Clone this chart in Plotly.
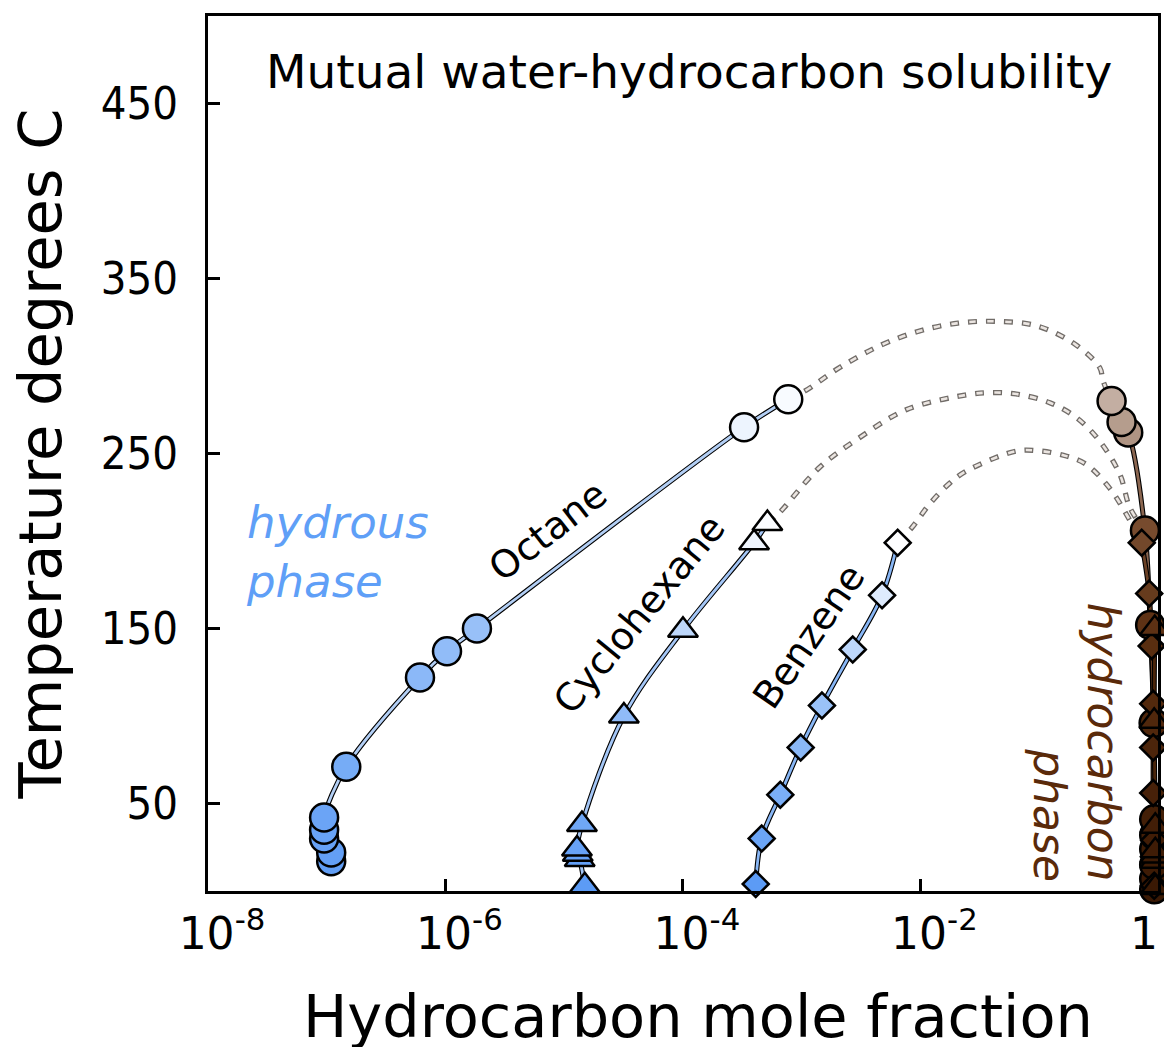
import plotly.graph_objects as go

# hydrous (water-rich) phase: hydrocarbon mole fraction and temperature (deg C)
octane_aq_x = [1.09e-7, 1.09e-7, 9.5e-8, 9.5e-8, 9.5e-8, 1.46e-7, 6.1e-7, 1.03e-6, 1.84e-6, 3.27e-4, 7.7e-4]
octane_aq_t = [17, 22, 30, 35, 42, 71, 122, 137, 150, 265, 281]

cyclohexane_aq_x = [1.49e-5, 1.35e-5, 1.3e-5, 1.28e-5, 1.41e-5, 3.18e-5, 1.0e-4, 3.97e-4, 5.14e-4]
cyclohexane_aq_t = [3, 18, 21, 24, 38, 100, 149, 199, 210]

benzene_aq_x = [4.1e-4, 4.6e-4, 6.6e-4, 9.8e-4, 1.48e-3, 2.69e-3, 4.75e-3, 6.43e-3]
benzene_aq_t = [4, 30, 55, 82, 106, 138, 169, 199]

# hydrocarbon-rich phase
octane_hc_x = [0.93, 0.93, 0.93, 0.93, 0.93, 0.93, 0.92, 0.86, 0.777, 0.562, 0.494, 0.407]
octane_hc_t = [1, 7, 15, 24, 32, 41, 96, 152, 206, 262, 268, 280]

cyclohexane_hc_x = [0.95, 0.95, 0.95, 0.95, 0.95, 0.93, 0.94]
cyclohexane_hc_t = [2, 17, 20, 23, 37, 97, 150]

benzene_hc_x = [0.93, 0.93, 0.912, 0.912, 0.912, 0.885, 0.844, 0.73]
benzene_hc_t = [3, 29, 56, 82, 107, 140, 170, 199]

# dashed connections through the critical region
octane_crit_x = [7.7e-4, 1.08e-3, 2.07e-3, 4.51e-3, 9.82e-3, 2.07e-2, 4.36e-2, 9.46e-2, 0.2, 0.324, 0.345, 0.407]
octane_crit_t = [281, 286, 299, 311.5, 320, 324.5, 325.5, 323, 312.5, 299, 291.5, 280]

cyclohexane_crit_x = [5.14e-4, 6.46e-4, 1.41e-3, 3.06e-3, 7.57e-3, 2.43e-2, 3.82e-2, 6.42e-2, 0.123, 0.206, 0.324, 0.478, 0.581, 0.777]
cyclohexane_crit_t = [210, 216, 242, 259, 275, 283.5, 284.8, 284, 279, 270.5, 257, 238, 219, 206]

benzene_crit_x = [6.43e-3, 8.55e-3, 1.19e-2, 1.76e-2, 2.44e-2, 6.43e-2, 0.1, 0.17, 0.25, 0.394, 0.545, 0.73]
benzene_crit_t = [199, 208, 221, 233, 240, 251.4, 251.5, 248.5, 243.7, 230, 215, 199]

x_tickvals = [1e-8, 1e-6, 1e-4, 1e-2, 1]
x_ticktext = ["\u00a0\u00a010<sup>-8</sup>", "\u00a0\u00a010<sup>-6</sup>", "\u00a0\u00a010<sup>-4</sup>",
              "\u00a0\u00a010<sup>-2</sup>", "1\u00a0\u00a0"]
y_tickvals = [50, 150, 250, 350, 450]

FONT = "DejaVu Sans"
BLUE_SCALE = [[0, "#5a9af5"], [0.5, "#94bef8"], [1, "#ffffff"]]
BROWN_SCALE = [[0, "#3a1904"], [0.5, "#5a2e10"], [0.75, "#7a4f32"], [1, "#c8b5aa"]]

fig = go.Figure()


def add_dashed(x, t):
    # outlined dashes: dark dash underneath, shorter light dash centred on it
    fig.add_trace(go.Scatter(x=x, y=t, mode="lines", line_shape="spline",
                             line=dict(color="#716c68", width=5.2, dash="9px,9px"),
                             hoverinfo="skip", showlegend=False))
    fig.add_trace(go.Scatter(x=x, y=t, mode="lines", line_shape="spline",
                             line=dict(color="#ebe5e1", width=2.6, dash="0px,1.3px,6.4px,10.3px"),
                             hoverinfo="skip", showlegend=False))


def add_line(x, t, color):
    fig.add_trace(go.Scatter(x=x, y=t, mode="lines", line_shape="spline",
                             line=dict(color="black", width=5),
                             hoverinfo="skip", showlegend=False))
    fig.add_trace(go.Scatter(x=x, y=t, mode="lines", line_shape="spline",
                             line=dict(color=color, width=2.8),
                             hoverinfo="skip", showlegend=False))


def add_markers(x, t, symbol, size, scale, cmax):
    fig.add_trace(go.Scatter(
        x=x, y=t, mode="markers", cliponaxis=False, showlegend=False,
        marker=dict(symbol=symbol, size=size, color=t, colorscale=scale,
                    cmin=0, cmax=cmax, line=dict(color="black", width=2.5))))


add_dashed(octane_crit_x, octane_crit_t)
add_dashed(cyclohexane_crit_x, cyclohexane_crit_t)
add_dashed(benzene_crit_x, benzene_crit_t)

add_line(octane_hc_x, octane_hc_t, "#8b6650")
add_line(benzene_hc_x, benzene_hc_t, "#6b4125")
add_line(cyclohexane_hc_x, cyclohexane_hc_t, "#4a250a")
add_line(octane_aq_x, octane_aq_t, "#b3cff5")
add_line(cyclohexane_aq_x, cyclohexane_aq_t, "#a4c6f6")
add_line(benzene_aq_x, benzene_aq_t, "#88b6f5")

add_markers(octane_aq_x, octane_aq_t, "circle", 28, BLUE_SCALE, 290)
add_markers(octane_hc_x, octane_hc_t, "circle", 28, BROWN_SCALE, 285)
add_markers(benzene_aq_x, benzene_aq_t, "diamond", 20, BLUE_SCALE, 200)
add_markers(benzene_hc_x, benzene_hc_t, "diamond", 20, BROWN_SCALE, 285)
add_markers(cyclohexane_aq_x, cyclohexane_aq_t, "triangle-up", 26, BLUE_SCALE, 215)
add_markers(cyclohexane_hc_x, cyclohexane_hc_t, "triangle-up", 26, BROWN_SCALE, 285)

annotations = [
    dict(text="Mutual water-hydrocarbon solubility", x=0.506, y=0.937,
         font=dict(size=47, color="black")),
    dict(text="Hydrocarbon mole fraction", x=0.516, y=-0.143,
         font=dict(size=59, color="black")),
    dict(text="hydrous<br>phase", x=0.038, y=0.387, xanchor="left", align="left",
         font=dict(size=45, color="#5f9ff7", style="italic")),
    dict(text="hydrocarbon", x=0.943, y=0.008, textangle=90, yanchor="bottom",
         font=dict(size=44, color="#5a2a0a", style="italic")),
    dict(text="phase", x=0.886, y=0.008, textangle=90, yanchor="bottom",
         font=dict(size=44, color="#5a2a0a", style="italic")),
    dict(text="Octane", x=0.358, y=0.411, textangle=-37.8, font=dict(size=38, color="black")),
    dict(text="Cyclohexane", x=0.454, y=0.317, textangle=-50.5, font=dict(size=38, color="black")),
    dict(text="Benzene", x=0.633, y=0.291, textangle=-55.5, font=dict(size=38, color="black")),
]
for a in annotations:
    a.update(xref="paper", yref="paper", showarrow=False)
    a.setdefault("xanchor", "center")
    a.setdefault("yanchor", "middle")

axis_style = dict(showline=True, linecolor="black", linewidth=3, mirror=True,
                  showgrid=False, zeroline=False, ticks="inside", ticklen=12,
                  tickwidth=2.5, tickcolor="black", automargin=False)

fig.update_layout(
    width=1164, height=1047,
    margin=dict(l=208, r=6, t=16, b=156),
    paper_bgcolor="white", plot_bgcolor="white",
    font=dict(family=FONT, color="black"),
    annotations=annotations,
    xaxis=dict(type="log", range=[-8, 0.0005],
               tickvals=x_tickvals, ticktext=x_ticktext,
               ticklabelstandoff=2, ticklabeloverflow="allow",
               tickfont=dict(family=FONT, size=44, color="black"),
               **axis_style),
    yaxis=dict(range=[0, 500], tickvals=y_tickvals,
               ticklabelstandoff=18,
               tickfont=dict(family="DejaVu Sans Condensed, DejaVu Sans", size=45, color="black"),
               title=dict(text="Temperature degrees C", font=dict(size=59), standoff=21),
               **axis_style),
)

# drop the default page margin so the figure fills the window exactly
fig.write_html("out.html", config={"displayModeBar": False},
               post_script="document.body.style.margin='0';document.body.style.overflow='hidden';")
